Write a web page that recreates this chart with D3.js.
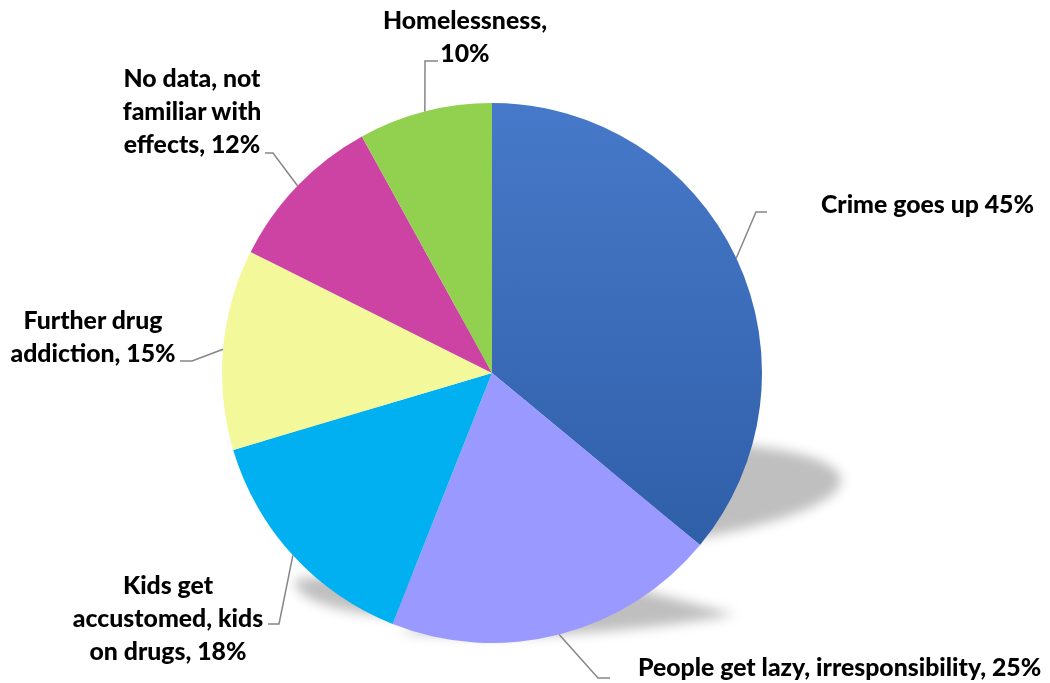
<!DOCTYPE html>
<html>
<head>
<meta charset="utf-8">
<script src="https://cdn.jsdelivr.net/npm/d3@7"></script>
<style>
  html, body { margin: 0; padding: 0; background: #fff; }
  svg { display: block; }
  text { font-family: Lato, "Open Sans", sans-serif; font-weight: 900; fill: #000; }
</style>
</head>
<body>
<svg id="chart" width="1050" height="683"></svg>
<script>
// ---- data ----
const categories = [
  "Crime goes up",
  "People get lazy, irresponsibility",
  "Kids get accustomed, kids on drugs",
  "Further drug addiction",
  "No data, not familiar with effects",
  "Homelessness"
];
const values = [45, 25, 18, 15, 12, 10];
// label lines; the value with "%" is appended to the last line
const labelLines = [
  ["Crime goes up "],
  ["People get lazy, irresponsibility, "],
  ["Kids get", "accustomed, kids", "on drugs, "],
  ["Further drug", "addiction, "],
  ["No data, not", "familiar with", "effects, "],
  ["Homelessness,", ""]
];
const colors = ["url(#crimeGrad)", "#9999ff", "#00b0f0", "#f3f89b", "#cc43a4", "#92d050"];

// ---- layout (positions only) ----
const W = 1050, H = 683;
const cx = 492, cy = 373, R = 270;
const fontSize = 24.8, lineH = 33;
const labelLayout = [
  { elbow: [756, 212], end: [767, 212], tx: 821, ty: 213, anchor: "start" },
  { elbow: [598, 678], end: [610, 678], tx: 638, ty: 676, anchor: "start" },
  { elbow: [279, 624], end: [268, 624], tx: 168, ty: 594, anchor: "middle" },
  { elbow: [192, 361], end: [180, 361], tx: 93,  ty: 329, anchor: "middle" },
  { elbow: [273, 153], end: [265, 153], tx: 192, ty: 87,  anchor: "middle" },
  { elbow: [425, 61],  end: [438, 61],  tx: 465, ty: 29,  anchor: "middle" }
];
// perspective shadow parameters
const shadowSkew = 0.36, shadowScaleY = 0.22, shadowDy = -7;

const svg = d3.select("#chart");
const defs = svg.append("defs");
const g1 = defs.append("linearGradient").attr("id", "crimeGrad")
  .attr("x1", 0).attr("y1", 0).attr("x2", 0).attr("y2", 1);
g1.append("stop").attr("offset", "0%").attr("stop-color", "#4679c9");
g1.append("stop").attr("offset", "100%").attr("stop-color", "#305fa9");

const f = defs.append("filter").attr("id", "blur")
  .attr("filterUnits", "userSpaceOnUse")
  .attr("x", 0).attr("y", 0).attr("width", W).attr("height", H);
f.append("feGaussianBlur").attr("stdDeviation", 6);

const pie = d3.pie().sort(null).value(d => d).startAngle(0).endAngle(2 * Math.PI);
const arcs = pie(values);
const arc = d3.arc().innerRadius(0).outerRadius(R);

function sliceBottom(a) {
  let ys = [cy, cy - R * Math.cos(a.startAngle), cy - R * Math.cos(a.endAngle)];
  if (a.startAngle <= Math.PI && a.endAngle >= Math.PI) ys.push(cy + R);
  return d3.max(ys);
}

// shadows
const shadowG = svg.append("g").attr("filter", "url(#blur)");
arcs.forEach(a => {
  const y0 = sliceBottom(a);
  const k = shadowScaleY, s = shadowSkew;
  const m = `matrix(1,0,${-s},${k},${s * y0},${(1 - k) * y0 + shadowDy})`;
  shadowG.append("path")
    .attr("d", arc(a))
    .attr("transform", `${m} translate(${cx},${cy})`)
    .attr("fill", "#000")
    .attr("fill-opacity", 0.25);
});

// slices
const pieG = svg.append("g").attr("transform", `translate(${cx},${cy})`);
pieG.selectAll("path.slice").data(arcs).join("path")
  .attr("class", "slice")
  .attr("d", arc)
  .attr("fill", (d, i) => colors[i]);

// leader lines
const outer = d3.arc().innerRadius(R).outerRadius(R);
arcs.forEach((a, i) => {
  const c = outer.centroid(a);
  const L = labelLayout[i];
  svg.append("path")
    .attr("d", d3.line()([[cx + c[0], cy + c[1]], L.elbow, L.end]))
    .attr("fill", "none")
    .attr("stroke", "#868686")
    .attr("stroke-width", 1.5);
});

// labels
arcs.forEach((a, i) => {
  const L = labelLayout[i];
  const lines = labelLines[i].slice();
  lines[lines.length - 1] = lines[lines.length - 1] + values[i] + "%";
  const t = svg.append("text")
    .attr("text-anchor", L.anchor)
    .attr("font-size", fontSize);
  lines.forEach((ln, j) => {
    t.append("tspan").attr("x", L.tx).attr("y", L.ty + j * lineH).text(ln);
  });
});
</script>
</body>
</html>
